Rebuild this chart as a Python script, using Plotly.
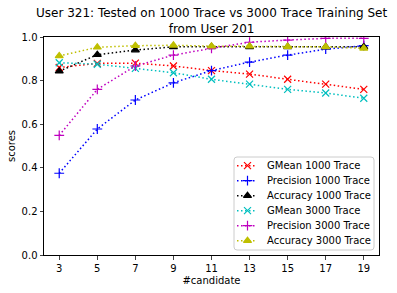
import plotly.graph_objects as go

candidates = [3, 5, 7, 9, 11, 13, 15, 17, 19]
gmean_1000 = [0.860, 0.879, 0.880, 0.867, 0.846, 0.830, 0.806, 0.784, 0.760]
precision_1000 = [0.375, 0.578, 0.711, 0.790, 0.846, 0.885, 0.917, 0.944, 0.960]
accuracy_1000 = [0.843, 0.919, 0.940, 0.955, 0.955, 0.955, 0.955, 0.955, 0.955]
gmean_3000 = [0.882, 0.875, 0.856, 0.836, 0.806, 0.784, 0.760, 0.743, 0.719]
precision_3000 = [0.549, 0.760, 0.867, 0.917, 0.948, 0.976, 0.986, 0.994, 0.994]
accuracy_3000 = [0.913, 0.953, 0.960, 0.962, 0.958, 0.958, 0.956, 0.955, 0.948]
x_ticks = [3, 5, 7, 9, 11, 13, 15, 17, 19]
y_ticks = [0.0, 0.2, 0.4, 0.6, 0.8, 1.0]
series_names = ["GMean 1000 Trace", "Precision 1000 Trace", "Accuracy 1000 Trace",
                "GMean 3000 Trace", "Precision 3000 Trace", "Accuracy 3000 Trace"]
series_values = [gmean_1000, precision_1000, accuracy_1000,
                 gmean_3000, precision_3000, accuracy_3000]

colors = ["#ff0000", "#0000ff", "#000000", "#00bfbf", "#bf00bf", "#bfbf00"]
symbols = ["x-thin-open", "cross-thin-open", "triangle-up",
           "x-thin-open", "cross-thin-open", "triangle-up"]
sizes = [7, 7, 7, 7, 7, 7]
DASH = "1.5px,2.5px"

fig = go.Figure()
for name, vals, color, sym, sz in zip(series_names, series_values, colors, symbols, sizes):
    fig.add_trace(go.Scatter(
        x=candidates, y=vals, name=name, mode="lines+markers", showlegend=False,
        line=dict(color=color, dash=DASH, width=1.5),
        marker=dict(symbol=sym, size=sz, color=color,
                    line=dict(color=color, width=1.2)),
    ))

# custom legend drawn in a pixel-based overlay axis (plot area is 335 x 218 px)
PW, PH = 335, 218
lx0, lx1, ly0, ly1 = 190, 330, 5, 98
item_y = [89.3 - 15 * i for i in range(len(series_names))]
annotations = []
for i, (name, color, sym, sz) in enumerate(zip(series_names, colors, symbols, sizes)):
    y = item_y[i]
    fig.add_trace(go.Scatter(
        x=[193, 213], y=[y, y], mode="lines", xaxis="x2", yaxis="y2",
        showlegend=False, hoverinfo="skip",
        line=dict(color=color, dash=DASH, width=1.5)))
    fig.add_trace(go.Scatter(
        x=[203.5], y=[y], mode="markers", xaxis="x2", yaxis="y2",
        showlegend=False, hoverinfo="skip",
        marker=dict(symbol=sym, size=sz, color=color, line=dict(color=color, width=1.2))))
    annotations.append(dict(text=name, xref="x2", yref="y2", x=221, y=y,
                            xanchor="left", yanchor="middle", showarrow=False,
                            font=dict(size=10)))

r = 3
box_path = (f"M {lx0 + r},{ly0} L {lx1 - r},{ly0} Q {lx1},{ly0} {lx1},{ly0 + r} "
            f"L {lx1},{ly1 - r} Q {lx1},{ly1} {lx1 - r},{ly1} L {lx0 + r},{ly1} "
            f"Q {lx0},{ly1} {lx0},{ly1 - r} L {lx0},{ly0 + r} Q {lx0},{ly0} {lx0 + r},{ly0} Z")

annotations.append(dict(
    text="User 321: Tested on 1000 Trace vs 3000 Trace Training Set<br>from User 201",
    xref="paper", yref="paper", x=0.5, y=1, xanchor="center", yanchor="bottom",
    yshift=-1, showarrow=False, font=dict(size=12)))

font = "DejaVu Sans, Verdana, sans-serif"
fig.update_layout(
    width=397, height=293,
    margin=dict(l=44, r=18, t=37, b=38),
    paper_bgcolor="white", plot_bgcolor="white",
    font=dict(family=font, size=10, color="black"),
    showlegend=False,
    xaxis=dict(range=[2.2, 19.8], tickvals=x_ticks, ticks="outside", ticklen=3.5,
               showgrid=False, zeroline=False, showline=True, linecolor="black",
               linewidth=1, mirror=True, automargin=False,
               title=dict(text="#candidate", standoff=4, font=dict(size=10))),
    yaxis=dict(range=[0, 1], tickvals=y_ticks, tickformat=".1f", ticks="outside",
               ticklen=3.5, showgrid=False, zeroline=False, showline=True,
               linecolor="black", linewidth=1, mirror=True, automargin=False,
               title=dict(text="scores", standoff=4, font=dict(size=10))),
    xaxis2=dict(range=[0, PW], overlaying="x", visible=False, fixedrange=True),
    yaxis2=dict(range=[0, PH], overlaying="y", visible=False, fixedrange=True),
    shapes=[dict(type="path", path=box_path, xref="x2", yref="y2", layer="below",
                 fillcolor="rgba(255,255,255,0.8)", line=dict(color="#cccccc", width=1))],
    annotations=annotations,
)

fig.write_html("out.html", config={"displayModeBar": False, "staticPlot": True},
               post_script="document.body.style.margin='0';document.body.style.overflow='hidden';")
